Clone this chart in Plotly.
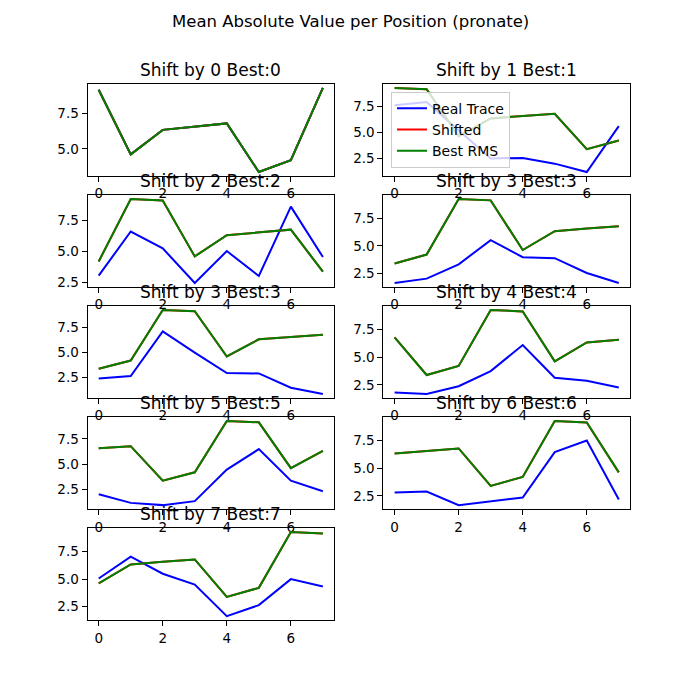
import plotly.graph_objects as go
from plotly.subplots import make_subplots

# panel titles (shift applied / best rms shift)
shift_labels = [0, 1, 2, 3, 3, 4, 5, 6, 7]
best_labels = [0, 1, 2, 3, 3, 4, 5, 6, 7]

positions = [0, 1, 2, 3, 4, 5, 6, 7]

real_traces = [
    [9.13, 4.62, 6.33, 6.57, 6.78, 3.39, 4.21, 9.26],
    [7.6, 7.9, 5.2, 2.5, 2.55, 2.0, 1.2, 5.6],
    [3.07, 6.63, 5.27, 2.47, 5.05, 3.04, 8.64, 4.57],
    [1.62, 2.02, 3.32, 5.52, 3.97, 3.88, 2.53, 1.62],
    [2.43, 2.67, 7.13, 5.0, 2.97, 2.93, 1.5, 0.87],
    [1.82, 1.67, 2.38, 3.74, 6.1, 3.15, 2.88, 2.26],
    [2.05, 1.2, 0.98, 1.37, 4.48, 6.49, 3.38, 2.34],
    [2.8, 2.89, 1.66, 1.99, 2.35, 6.45, 7.5, 2.17],
    [5.06, 7.04, 5.49, 4.51, 1.65, 2.65, 5.0, 4.33],
]

shifted_traces = [
    [9.13, 4.62, 6.33, 6.57, 6.78, 3.39, 4.21, 9.26],
    [9.26, 9.13, 4.62, 6.33, 6.57, 6.78, 3.39, 4.21],
    [4.21, 9.26, 9.13, 4.62, 6.33, 6.57, 6.78, 3.39],
    [3.39, 4.21, 9.26, 9.13, 4.62, 6.33, 6.57, 6.78],
    [3.39, 4.21, 9.26, 9.13, 4.62, 6.33, 6.57, 6.78],
    [6.78, 3.39, 4.21, 9.26, 9.13, 4.62, 6.33, 6.57],
    [6.57, 6.78, 3.39, 4.21, 9.26, 9.13, 4.62, 6.33],
    [6.33, 6.57, 6.78, 3.39, 4.21, 9.26, 9.13, 4.62],
    [4.62, 6.33, 6.57, 6.78, 3.39, 4.21, 9.26, 9.13],
]

# best rms shift equals the shifted trace in every panel
best_rms_traces = shifted_traces

FONT = "DejaVu Sans"
W = H = 700
OFF = 8  # page body margin the html adds around the plot div


def px_x(px):
    return (px - OFF) / W


def px_y(py):
    return 1 - (py - OFF) / H


fig = make_subplots(rows=5, cols=2, specs=[[{}, {}]] * 4 + [[{}, None]])

# matplotlib-like grid geometry (pixels in the 700x700 picture)
left, right, top, bottom = 0.125 * W, 0.9 * W, 0.12 * H, 0.89 * H
wspace, hspace = 0.2, 0.2
cw = (right - left) / (2 + wspace)
rh = (bottom - top) / (5 + 4 * hspace)

for i in range(len(shift_labels)):
    row, col = i // 2 + 1, i % 2 + 1
    first = (i == 1)
    fig.add_trace(go.Scatter(x=positions, y=real_traces[i], mode="lines", name="Real Trace",
                             line=dict(color="#0000ff", width=2), showlegend=first, legendgroup="r"), row=row, col=col)
    fig.add_trace(go.Scatter(x=positions, y=shifted_traces[i], mode="lines", name="Shifted",
                             line=dict(color="#ff0000", width=2), showlegend=first, legendgroup="s"), row=row, col=col)
    fig.add_trace(go.Scatter(x=positions, y=best_rms_traces[i], mode="lines", name="Best RMS",
                             line=dict(color="#008000", width=2), showlegend=first, legendgroup="b"), row=row, col=col)

    vals = real_traces[i] + shifted_traces[i] + best_rms_traces[i]
    lo, hi = min(vals), max(vals)
    pad = 0.05 * (hi - lo)

    x0 = left + (col - 1) * cw * (1 + wspace)
    y0 = top + (row - 1) * rh * (1 + hspace)
    fig.update_xaxes(domain=[px_x(x0), px_x(x0 + cw)], range=[-0.35, 7.35], tickvals=[0, 2, 4, 6],
                     row=row, col=col)
    fig.update_yaxes(domain=[px_y(y0 + rh), px_y(y0)], range=[lo - pad, hi + pad], tick0=0, dtick=2.5,
                     tickformat=".1f", row=row, col=col)
    fig.add_annotation(text="Shift by %d Best:%d" % (shift_labels[i], best_labels[i]),
                       x=px_x(x0 + cw / 2), y=px_y(y0), xref="paper", yref="paper", xanchor="center",
                       yanchor="bottom", yshift=2, showarrow=False,
                       font=dict(family=FONT, size=17, color="black"))

axis_style = dict(showline=True, linecolor="black", linewidth=1, mirror=True, showgrid=False,
                  zeroline=False, ticks="outside", ticklen=5, tickwidth=1, tickcolor="black",
                  tickfont=dict(family=FONT, size=13.5, color="black"))
fig.update_xaxes(**axis_style)
fig.update_yaxes(**axis_style)

fig.add_annotation(text="Mean Absolute Value per Position (pronate)", x=px_x(W / 2), y=px_y(22),
                   xref="paper", yref="paper", xanchor="center", yanchor="middle", showarrow=False,
                   font=dict(family=FONT, size=16.5, color="black"))

fig.update_layout(
    width=W, height=H,
    margin=dict(l=0, r=0, t=0, b=0),
    paper_bgcolor="white", plot_bgcolor="white",
    font=dict(family=FONT, color="black"),
    legend=dict(x=px_x(391), y=px_y(92), xanchor="left", yanchor="top",
                bgcolor="rgba(255,255,255,0.8)", bordercolor="#cccccc", borderwidth=1,
                font=dict(family=FONT, size=14, color="black"), tracegroupgap=0),
)

fig.write_html("out.html")
